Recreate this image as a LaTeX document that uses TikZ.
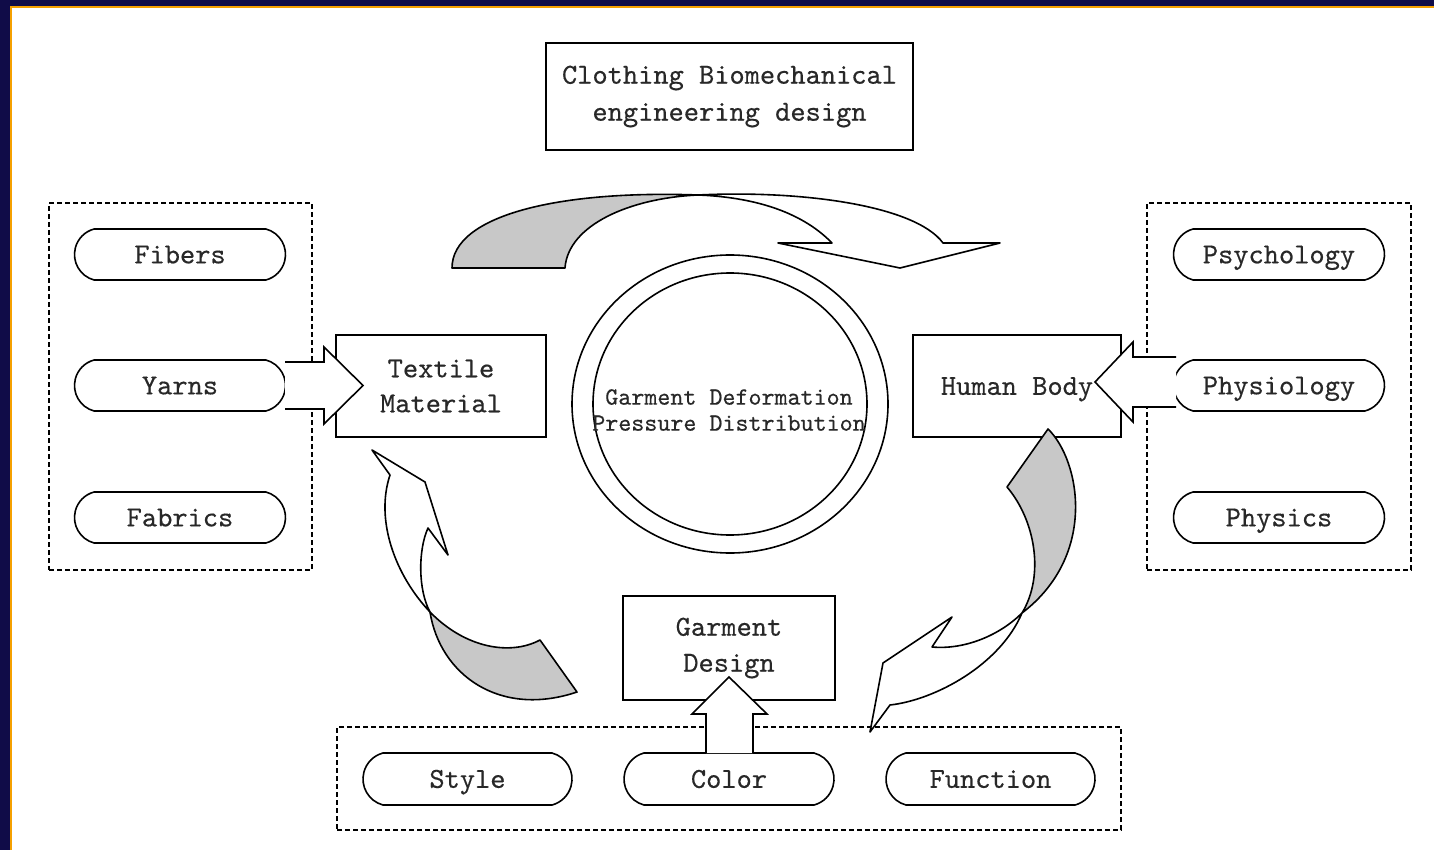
\documentclass[tikz,border=0pt]{standalone}
\usepackage{fontspec}
\newfontfamily\dfont[FakeBold=0.4]{lmmono10-regular.otf}
\usetikzlibrary{shapes.geometric,shapes.misc}
\definecolor{navyedge}{RGB}{16,12,72}
\definecolor{orangeedge}{RGB}{245,160,0}
\definecolor{bandgray}{RGB}{200,200,200}
\definecolor{ink}{RGB}{40,40,40}
\begin{document}
\begin{tikzpicture}[x=1pt,y=-1pt,
  every node/.style={font=\dfont\fontsize{29}{37}\selectfont, text=ink},
  box/.style={draw, line width=1.6pt, rectangle, inner sep=0pt, align=center},
  pill/.style={draw, line width=1.6pt, rounded rectangle, rounded rectangle arc length=150,
    minimum width=211pt, minimum height=51pt, inner sep=0pt, text height=19.7pt, text depth=2pt},
  group/.style={draw, dash pattern=on 5pt off 3pt, line width=1.4pt, rectangle, inner sep=0pt},
  ring/.style={draw, ellipse, line width=1.6pt, inner sep=0pt},
  band/.style={draw, line width=1.6pt, line join=round},
  blockfill/.style={fill=white},
  blockline/.style={draw, line width=1.6pt, line join=miter},
]
\useasboundingbox (0,0) rectangle (1434,850);
\fill[white] (0,0) rectangle (1434,850);
\fill[navyedge] (0,0) rectangle (10,850);
\fill[navyedge] (0,0) rectangle (1434,6);
\fill[orangeedge] (10,6) rectangle (12,850);
\fill[orangeedge] (10,6) rectangle (1434,8);

% groups
\node[group, minimum width=263pt, minimum height=367pt] (leftgroup) at (180.5,386.5) {};
\node[group, minimum width=264pt, minimum height=367pt] (rightgroup) at (1279,386.5) {};
\node[group, minimum width=784pt, minimum height=103pt] (bottomgroup) at (729,778.5) {};

% pills
\node[pill] (fibers) at (180,254.5) {Fibers};
\node[pill] (yarns) at (180,385.5) {Yarns};
\node[pill] (fabrics) at (180,517.5) {Fabrics};
\node[pill] (psychology) at (1279,254.5) {Psychology};
\node[pill] (physiology) at (1279,385.5) {Physiology};
\node[pill] (physics) at (1279,517.5) {Physics};
\node[pill, minimum width=209pt, minimum height=52pt] (style) at (467.5,779) {Style};
\node[pill, minimum width=210pt, minimum height=52pt] (color) at (729,779) {Color};
\node[pill, minimum width=209pt, minimum height=52pt] (function) at (990.5,779) {Function};

% boxes
\node[box, minimum width=367pt, minimum height=107pt] (title) at (729.5,96.5)
  {Clothing Biomechanical\\engineering design};
\node[box, minimum width=210pt, minimum height=102pt] (textile) at (441,386)
  {Textile\\[-2pt]Material};
\node[box, minimum width=208pt, minimum height=102pt, text height=19.7pt, text depth=2pt] (human) at (1017,386) {Human Body};
\node[box, minimum width=212pt, minimum height=104pt] (garment) at (729,648)
  {Garment\\[-1pt]Design};

% central rings
\node[ring, minimum width=316pt, minimum height=298pt] (outerring) at (730,404) {};
\node[ring, minimum width=274pt, minimum height=262pt] (innerring) at (730,404) {};
\node[font=\dfont\fontsize{24.8}{26}\selectfont, align=center] (coretext) at (729,410)
  {Garment Deformation\\Pressure Distribution};

% top curved band
\filldraw[band, fill=bandgray] (452,268) .. controls (452,215) and (560,190) .. (698,195)
  .. controls (630,198) and (568,225) .. (565,268) -- cycle;
\filldraw[band, fill=white] (698,195) .. controls (800,190) and (915,205) .. (943,243)
  -- (1000,243) -- (900,268) -- (778,243) -- (832,243)
  .. controls (800,210) and (750,197) .. (698,195) -- cycle;

% right curved band
\filldraw[band, fill=bandgray] (1048,429) -- (1007,487)
  .. controls (1035,520) and (1045,575) .. (1022,613)
  .. controls (1098,555) and (1080,460) .. (1048,429) -- cycle;
\filldraw[band, fill=white] (1022,613) .. controls (1000,635) and (965,650) .. (932,647)
  -- (952,617) -- (883,663) -- (870,732) -- (890,705)
  .. controls (935,700) and (1000,665) .. (1022,613) -- cycle;

% left curved band
\filldraw[band, fill=white] (372,450) -- (425,482) -- (448,555) -- (428,528)
  .. controls (418,550) and (418,590) .. (430,612)
  .. controls (395,575) and (375,520) .. (390,475) -- cycle;
\filldraw[band, fill=bandgray] (430,612) .. controls (440,675) and (500,718) .. (577,692)
  -- (540,640) .. controls (510,656) and (465,648) .. (430,612) -- cycle;

% block arrow yarns -> textile
\fill[blockfill] (285,362) -- (324,362) -- (324,347) -- (363,385.5) -- (324,424) -- (324,409) -- (285,409) -- cycle;
\draw[blockline] (285,362) -- (324,362) -- (324,347) -- (363,385.5) -- (324,424) -- (324,409) -- (285,409);

% block arrow physiology -> human
\fill[blockfill] (1176,357) -- (1133,357) -- (1133,342) -- (1095,382) -- (1133,422) -- (1133,407) -- (1176,407) -- cycle;
\draw[blockline] (1176,357) -- (1133,357) -- (1133,342) -- (1095,382) -- (1133,422) -- (1133,407) -- (1176,407);

% block arrow color -> garment
\fill[blockfill] (706,753) -- (706,714) -- (692,714) -- (729,677) -- (767,714) -- (753,714) -- (753,753) -- cycle;
\draw[blockline] (706,753) -- (706,714) -- (692,714) -- (729,677) -- (767,714) -- (753,714) -- (753,753);
\end{tikzpicture}
\end{document}
